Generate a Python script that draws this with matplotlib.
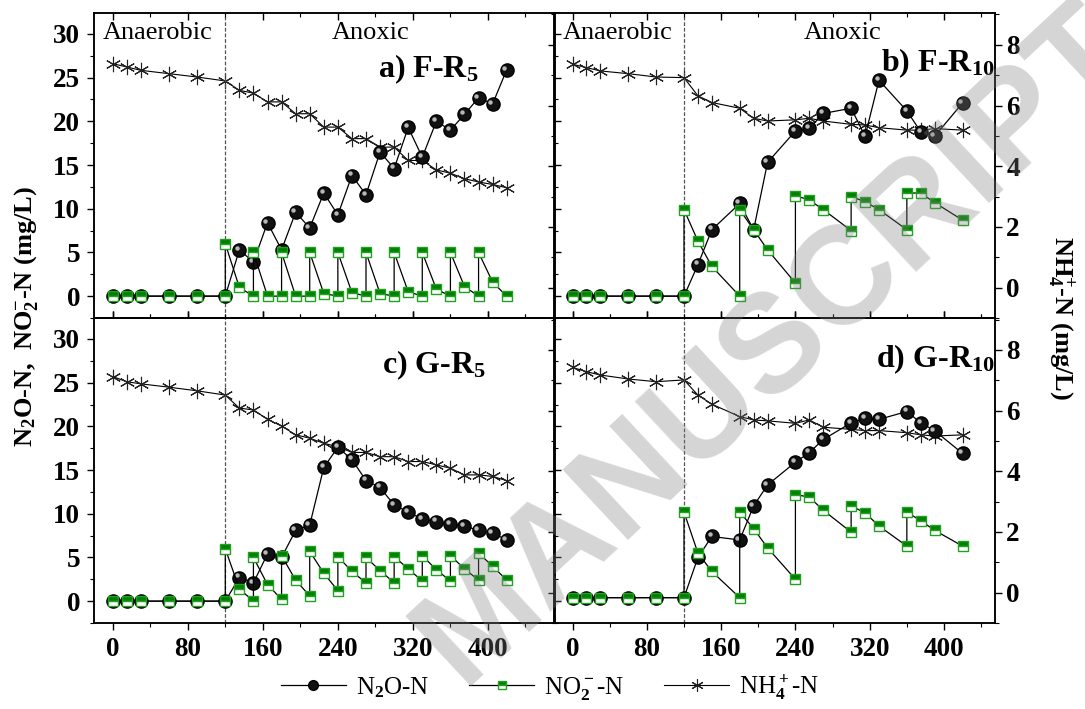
import matplotlib
matplotlib.use('Agg')
import matplotlib.pyplot as plt
from matplotlib.ticker import MultipleLocator
from matplotlib.transforms import offset_copy
from matplotlib.lines import Line2D

plt.rcParams['font.family'] = 'Liberation Serif'
plt.rcParams['font.weight'] = 'bold'
plt.rcParams['mathtext.fontset'] = 'custom'
plt.rcParams['mathtext.rm'] = 'Liberation Serif'
plt.rcParams['mathtext.it'] = 'Liberation Serif:italic'
plt.rcParams['mathtext.bf'] = 'Liberation Serif:bold'

# sampling times (min)
t_full = [0, 15, 30, 60, 90, 120, 135, 150, 165, 180, 195, 210, 225, 240, 255,
          270, 285, 300, 315, 330, 345, 360, 375, 390, 405, 420]
t_part = [0, 15, 30, 60, 90, 120, 135, 150, 180, 195, 210, 240, 255, 270, 300,
          315, 330, 360, 375, 390, 420]
# nitrite samples, taken before and after each feeding
t_no2_full = [0, 15, 30, 60, 90, 120, 120, 135, 150, 150, 165, 180, 180, 195,
              210, 210, 225, 240, 240, 255, 270, 270, 285, 300, 300, 315, 330,
              330, 345, 360, 360, 375, 390, 390, 405, 420]
t_no2_part = [0, 15, 30, 60, 90, 120, 120, 135, 150, 180, 180, 195, 210, 240,
              240, 255, 270, 300, 300, 315, 330, 360, 360, 375, 390, 420]

# a) F-R5
n2o_a = [0, 0, 0, 0, 0, 0, 5.3, 3.9, 8.4, 5.3, 9.6, 7.8, 11.8, 9.3, 13.8, 11.6,
         16.5, 14.6, 19.3, 15.9, 20.0, 19.0, 20.8, 22.7, 22.0, 25.9]
no2_a = [0, 0, 0, 0, 0, 0, 6.0, 1.0, 0, 5.0, 0, 0, 5.0, 0, 0, 5.0, 0.3, 0, 5.0,
         0.4, 0, 5.0, 0.3, 0, 5.0, 0.5, 0, 5.0, 0.8, 0, 5.0, 1.1, 0, 5.0, 1.6, 0]
nh4_a = [7.38, 7.27, 7.16, 7.05, 6.94, 6.81, 6.50, 6.41, 6.12, 6.12, 5.73, 5.73,
         5.29, 5.29, 4.91, 4.91, 4.63, 4.63, 4.19, 4.19, 3.88, 3.77, 3.59, 3.48,
         3.40, 3.29]

# b) F-R10
n2o_b = [0, 0, 0, 0, 0, 0, 3.6, 7.6, 10.6, 7.6, 15.3, 18.9, 19.2, 20.9, 21.5,
         18.3, 24.7, 21.2, 18.8, 18.3, 22.1]
no2_b = [0, 0, 0, 0, 0, 0, 9.9, 6.3, 3.4, 0, 9.9, 7.6, 5.3, 1.5, 11.5, 11.0,
         9.9, 7.5, 11.4, 10.8, 9.9, 7.6, 11.8, 11.8, 10.7, 8.7]
nh4_b = [7.36, 7.25, 7.14, 7.05, 6.94, 6.92, 6.32, 6.10, 5.91, 5.58, 5.49, 5.53,
         5.58, 5.49, 5.38, 5.36, 5.27, 5.19, 5.19, 5.24, 5.19]

# c) G-R5
n2o_c = [0, 0, 0, 0, 0, 0, 2.7, 2.1, 5.4, 5.0, 8.1, 8.7, 15.3, 17.6, 16.2, 13.8,
         13.0, 11.0, 10.2, 9.4, 9.1, 8.8, 8.6, 8.1, 7.8, 7.0]
no2_c = [0, 0, 0, 0, 0, 0, 6.0, 1.4, 0, 5.0, 1.9, 0.2, 5.2, 2.4, 0.6, 5.7, 3.2,
         1.2, 5.1, 3.4, 2.1, 5.0, 3.5, 2.1, 5.1, 3.7, 2.3, 5.2, 3.6, 2.3, 5.2,
         3.7, 2.4, 5.5, 4.0, 2.4]
nh4_c = [7.12, 6.95, 6.88, 6.77, 6.65, 6.51, 6.08, 6.02, 5.71, 5.49, 5.20, 5.09,
         4.92, 4.81, 4.62, 4.62, 4.48, 4.48, 4.32, 4.32, 4.21, 4.10, 3.88, 3.88,
         3.83, 3.69]

# d) G-R10
n2o_d = [0.4, 0.4, 0.4, 0.4, 0.4, 0.4, 5.0, 7.4, 7.0, 10.9, 13.3, 15.9, 17.0,
         18.5, 20.4, 20.9, 20.8, 21.7, 20.4, 19.5, 16.9]
no2_d = [0.4, 0.4, 0.4, 0.4, 0.4, 0.4, 10.2, 5.5, 3.4, 0.4, 10.2, 8.3, 6.1, 2.5,
         12.2, 11.9, 10.4, 7.9, 10.9, 10.1, 8.6, 6.3, 10.2, 9.2, 8.1, 6.3]
nh4_d = [7.42, 7.28, 7.17, 7.04, 6.95, 7.01, 6.51, 6.21, 5.80, 5.69, 5.66, 5.58,
         5.69, 5.45, 5.38, 5.34, 5.34, 5.27, 5.20, 5.16, 5.20]

panel_labels = ['a) F-R$_\\mathbf{5}$', 'b) F-R$_\\mathbf{10}$',
                'c) G-R$_\\mathbf{5}$', 'd) G-R$_\\mathbf{10}$']

fig = plt.figure(figsize=(10.85, 7.09), dpi=100)

green = '#008000'
n2o_style = dict(color='black', lw=0.9, marker='o', ms=9.5, mfc='#111111', mec='black')
no2_style = dict(color='black', lw=0.9, marker='s', ms=7, fillstyle='top', mfc=green,
                 mfcalt='white', mec='#22a022', mew=1.0)
nh4_style = dict(color='black', lw=0.8, marker=(6, 2, 0), ms=11, mec='#222222', mew=0.8)

# axes boxes in figure fraction
boxes = [[0.0866, 0.5515, 0.4245, 0.4302], [0.5106, 0.5515, 0.4065, 0.4302],
         [0.0866, 0.1213, 0.4245, 0.4302], [0.5106, 0.1213, 0.4065, 0.4302]]
xlims = [(-20, 471), (-20, 455), (-20, 471), (-20, 455)]
label_pos = [(0.835, 0.79), (1.0, 0.81), (0.852, 0.82), (1.0, 0.84)]

panels = [
    (t_full, n2o_a, t_no2_full, no2_a, t_full, nh4_a),
    (t_part, n2o_b, t_no2_part, no2_b, t_part, nh4_b),
    (t_full, n2o_c, t_no2_full, no2_c, t_full, nh4_c),
    (t_part, n2o_d, t_no2_part, no2_d, t_part, nh4_d),
]

for i, (tn, n2o, tno, no2, th, nh4) in enumerate(panels):
    ax = fig.add_axes(boxes[i])
    ax2 = ax.twinx()
    ax.set_zorder(ax2.get_zorder() + 1)
    ax.patch.set_visible(False)
    left = i % 2 == 0
    top = i < 2

    ax2.plot(th, nh4, zorder=2, **nh4_style)
    ax.plot(tn, n2o, zorder=3, **n2o_style)
    shine = offset_copy(ax.transData, fig=fig, x=-1.6, y=1.6, units='points')
    ax.plot(tn, n2o, ls='none', marker='o', ms=3.2, mfc='#b8b8b8', mec='none',
            transform=shine, zorder=3.1)
    ax.plot(tno, no2, zorder=4, **no2_style)
    ax.axvline(120, color='#555555', lw=0.9, ls=(0, (3, 1.5)), zorder=1)

    ax.set_xlim(*xlims[i])
    ax.set_ylim(-2.5, 32.4)
    ax2.set_ylim(-1.0, 9.05)
    ax.xaxis.set_major_locator(MultipleLocator(80))
    ax.xaxis.set_minor_locator(MultipleLocator(40))
    ax.yaxis.set_major_locator(MultipleLocator(5))
    ax.yaxis.set_minor_locator(MultipleLocator(2.5))
    ax2.yaxis.set_major_locator(MultipleLocator(2))
    ax2.yaxis.set_minor_locator(MultipleLocator(1))

    for a in (ax, ax2):
        for s in a.spines.values():
            s.set_linewidth(1.1)
    ax.tick_params(which='major', length=5, width=1, labelsize=19.5, pad=5)
    ax.tick_params(which='minor', length=3, width=0.8)
    ax2.tick_params(which='major', length=5, width=1, labelsize=19.5, pad=3)
    ax2.tick_params(which='minor', length=3, width=0.8)

    if top:
        ax.tick_params(axis='x', which='both', direction='in', top=True,
                       bottom=True, labelbottom=False)
    else:
        ax.tick_params(axis='x', which='both', direction='out', top=True,
                       bottom=True, labelbottom=True)
    if left:
        ax.tick_params(axis='y', which='both', direction='out', left=True)
        ax2.tick_params(axis='y', which='both', direction='in', right=True,
                        labelright=False)
    else:
        ax.tick_params(axis='y', which='both', direction='in', left=True,
                       labelleft=False)
        ax2.tick_params(axis='y', which='both', direction='out', right=True,
                        labelright=True)

    if top:
        ax.text(0.02, 0.915, 'Anaerobic', transform=ax.transAxes, fontsize=19,
                fontweight='normal', ha='left', va='baseline')
        ax.text(0.6 if left else 0.655, 0.915, 'Anoxic', transform=ax.transAxes,
                fontsize=19, fontweight='normal', ha='center', va='baseline')
    ax.text(label_pos[i][0], label_pos[i][1], panel_labels[i], transform=ax.transAxes,
            fontsize=23, fontweight='bold', ha='right', va='baseline')

fig.text(0.024, 0.553, 'N$_\\mathbf{2}$O-N,  NO$_\\mathbf{2}^\\mathbf{-}$-N (mg/L)',
         rotation=90, fontsize=19, fontweight='bold', ha='center', va='center')
fig.text(0.978, 0.551, 'NH$_\\mathbf{4}^\\mathbf{+}$-N (mg/L)', rotation=270,
         fontsize=19, fontweight='bold', ha='center', va='center')

handles = [Line2D([], [], **dict(n2o_style, ms=7)),
           Line2D([], [], **dict(no2_style, ms=6)),
           Line2D([], [], **dict(nh4_style, ms=9))]
labels = ['N$_2$O-N', 'NO$_2^-$-N', 'NH$_4^+$-N']
fig.legend(handles, labels, loc='lower center', bbox_to_anchor=(0.507, -0.022), ncol=3,
           frameon=False, handlelength=2.6, handletextpad=0.4, columnspacing=1.6,
           prop={'family': 'Liberation Serif', 'size': 18, 'weight': 'normal'})

fig.text(0.715, 0.515, 'MANUSCRIPT', rotation=43, rotation_mode='anchor', fontsize=100,
         family='Liberation Sans', fontweight='bold', color='gray', alpha=0.33,
         ha='center', va='center', zorder=10)

fig.savefig('out.png', dpi=100)
